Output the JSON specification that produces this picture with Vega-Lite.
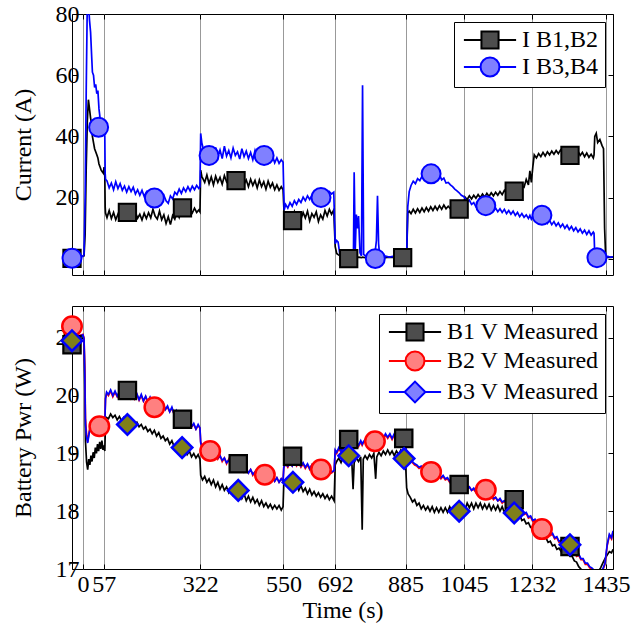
{
"$schema": "https://vega.github.io/schema/vega-lite/v6.json",
"padding": {"left": 10, "top": 1, "right": 2, "bottom": 2},
"background": "white",
"spacing": 29,
"resolve": {"scale": {"shape": "independent", "fill": "independent", "stroke": "independent", "color": "independent"}, "legend": {"shape": "independent", "fill": "independent", "stroke": "independent", "color": "independent"}},
"config": {
  "font": "Liberation Serif",
  "view": {"stroke": "black", "strokeWidth": 1},
  "axis": {"labelFont": "Liberation Serif", "labelFontSize": 24, "labelColor": "black", "titleFont": "Liberation Serif", "titleFontSize": 24, "titleFontWeight": "normal", "titleColor": "black", "domain": false, "tickColor": "black", "tickSize": -5, "labelOverlap": false, "labelFlush": false, "format": "d"},
  "legend": {"orient": "top-right", "offset": 8, "padding": 6, "strokeColor": "black", "fillColor": "white", "labelFont": "Liberation Serif", "labelFontSize": 24, "labelColor": "black", "symbolOffset": 18, "labelOffset": 20, "labelLimit": 400, "cornerRadius": 0, "symbolSize": 324, "symbolStrokeWidth": 2, "symbolFillColor": "#ffffff", "symbolStrokeColor": "#000000"}
},
"datasets": {
"topMarks": [
{"s":"I B1,B2","t":-30,"v":0.2},{"s":"I B1,B2","t":122,"v":15.2},{"s":"I B1,B2","t":273,"v":16.7},{"s":"I B1,B2","t":420,"v":25.6},{"s":"I B1,B2","t":575,"v":12.5},{"s":"I B1,B2","t":729,"v":0.1},{"s":"I B1,B2","t":877,"v":0.4},{"s":"I B1,B2","t":1032,"v":16.3},{"s":"I B1,B2","t":1183,"v":22.1},{"s":"I B1,B2","t":1336,"v":33.8},
{"s":"I B3,B4","t":-30,"v":0.2},{"s":"I B3,B4","t":43,"v":43},{"s":"I B3,B4","t":196,"v":19.9},{"s":"I B3,B4","t":346,"v":33.8},{"s":"I B3,B4","t":497,"v":33.8},{"s":"I B3,B4","t":653,"v":20.1},{"s":"I B3,B4","t":802,"v":0.1},{"s":"I B3,B4","t":955,"v":27.8},{"s":"I B3,B4","t":1105,"v":17.4},{"s":"I B3,B4","t":1259,"v":14.3},{"s":"I B3,B4","t":1410,"v":0.4}
],
"botMarks": [
{"s":"B1 V Measured","t":-30,"v":20.88},{"s":"B1 V Measured","t":122,"v":20.09},{"s":"B1 V Measured","t":273,"v":19.59},{"s":"B1 V Measured","t":426,"v":18.82},{"s":"B1 V Measured","t":575,"v":18.95},{"s":"B1 V Measured","t":729,"v":19.24},{"s":"B1 V Measured","t":880,"v":19.26},{"s":"B1 V Measured","t":1032,"v":18.46},{"s":"B1 V Measured","t":1183,"v":18.2},{"s":"B1 V Measured","t":1336,"v":17.39},
{"s":"B2 V Measured","t":-30,"v":21.2},{"s":"B2 V Measured","t":45,"v":19.47},{"s":"B2 V Measured","t":196,"v":19.8},{"s":"B2 V Measured","t":349,"v":19.04},{"s":"B2 V Measured","t":499,"v":18.63},{"s":"B2 V Measured","t":653,"v":18.72},{"s":"B2 V Measured","t":801,"v":19.21},{"s":"B2 V Measured","t":955,"v":18.68},{"s":"B2 V Measured","t":1105,"v":18.37},{"s":"B2 V Measured","t":1259,"v":17.69},
{"s":"B3 V Measured","t":-30,"v":20.95},{"s":"B3 V Measured","t":122,"v":19.5},{"s":"B3 V Measured","t":272,"v":19.1},{"s":"B3 V Measured","t":426,"v":18.36},{"s":"B3 V Measured","t":576,"v":18.5},{"s":"B3 V Measured","t":729,"v":18.96},{"s":"B3 V Measured","t":881,"v":18.91},{"s":"B3 V Measured","t":1032,"v":18.0},{"s":"B3 V Measured","t":1183,"v":17.97},{"s":"B3 V Measured","t":1336,"v":17.42}
],
"topLines": [
{"t":-30,"a":0.8,"b":0.6},{"t":-20,"a":0.9,"b":0.7},{"t":-10,"a":0.7,"b":0.9},{"t":0,"a":0.9,"b":0.8},{"t":3,"a":1.0,"b":1.5},{"t":6,"a":8,"b":20},{"t":9,"a":30,"b":55},{"t":12,"a":45,"b":84},{"t":15,"a":52,"b":84},{"t":18,"a":49,"b":78},{"t":21,"a":46,"b":74},{"t":24,"a":44,"b":66},{"t":26,"a":40,"b":61},{"t":29,"a":38,"b":60},{"t":32,"a":36,"b":56},{"t":35,"a":35,"b":57},{"t":38,"a":34,"b":54},{"t":41,"a":33,"b":55},{"t":44,"a":31,"b":49},{"t":47,"a":30,"b":46},{"t":50,"a":29,"b":44},{"t":53,"a":28.5,"b":43},{"t":56,"a":28,"b":42},{"t":58,"a":30,"b":41.5},{"t":60,"a":27,"b":40},{"t":61,"a":17,"b":28},{"t":62,"a":15,"b":26},
{"t":66,"a":13.5,"b":25.5},{"t":72,"a":15.8,"b":23.2},{"t":78,"a":13.2,"b":24.8},{"t":84,"a":15.2,"b":22.6},{"t":90,"a":12.8,"b":25.2},{"t":96,"a":14.6,"b":23.0},{"t":102,"a":13.0,"b":24.6},{"t":108,"a":15.4,"b":22.4},{"t":114,"a":13.4,"b":23.8},{"t":120,"a":15.0,"b":21.8},{"t":126,"a":12.9,"b":23.6},{"t":132,"a":14.8,"b":22.0},{"t":138,"a":13.1,"b":23.4},{"t":144,"a":15.3,"b":21.2},{"t":150,"a":13.3,"b":22.6},{"t":156,"a":14.6,"b":20.8},{"t":162,"a":12.7,"b":22.4},{"t":168,"a":14.9,"b":20.4},{"t":174,"a":13.2,"b":21.8},{"t":180,"a":15.1,"b":19.8},{"t":186,"a":13.4,"b":21.6},{"t":192,"a":16.2,"b":19.9},{"t":198,"a":14.0,"b":21.4},{"t":204,"a":13.0,"b":19.6},{"t":210,"a":15.6,"b":21.0},{"t":216,"a":12.8,"b":19.4},{"t":222,"a":14.4,"b":20.8},{"t":228,"a":11.6,"b":19.0},{"t":234,"a":13.8,"b":18.2},{"t":240,"a":11.2,"b":20.6},{"t":246,"a":14.2,"b":19.6},{"t":252,"a":13.0,"b":21.8},{"t":258,"a":15.4,"b":21.0},{"t":264,"a":13.6,"b":22.8},{"t":270,"a":16.0,"b":21.4},{"t":276,"a":14.8,"b":23.2},{"t":282,"a":16.4,"b":22.0},{"t":288,"a":14.6,"b":23.6},{"t":294,"a":16.2,"b":22.2},{"t":300,"a":15.0,"b":23.8},{"t":306,"a":16.6,"b":22.6},{"t":312,"a":15.2,"b":24.0},{"t":318,"a":16.0,"b":23.0},{"t":321,"a":15.4,"b":23.6},
{"t":323,"a":29,"b":41},{"t":326,"a":27,"b":38},{"t":330,"a":26,"b":36},{"t":334,"a":25.0,"b":34.0},{"t":340,"a":27.4,"b":36.2},{"t":346,"a":24.6,"b":33.2},{"t":352,"a":26.8,"b":35.8},{"t":358,"a":24.2,"b":33.6},{"t":364,"a":27.0,"b":36.4},{"t":370,"a":25.0,"b":33.4},{"t":376,"a":26.6,"b":35.6},{"t":382,"a":24.4,"b":32.8},{"t":388,"a":27.2,"b":36.8},{"t":394,"a":25.2,"b":33.6},{"t":400,"a":26.4,"b":35.4},{"t":406,"a":24.0,"b":33.0},{"t":412,"a":26.8,"b":36.2},{"t":418,"a":24.6,"b":33.8},{"t":424,"a":26.2,"b":35.0},{"t":430,"a":23.8,"b":32.6},{"t":436,"a":26.4,"b":36.0},{"t":442,"a":24.4,"b":33.4},{"t":448,"a":25.8,"b":35.2},{"t":454,"a":23.6,"b":32.8},{"t":460,"a":26.0,"b":34.8},{"t":466,"a":24.0,"b":32.4},{"t":472,"a":25.6,"b":35.4},{"t":478,"a":23.2,"b":33.0},{"t":484,"a":25.8,"b":34.6},{"t":490,"a":23.6,"b":32.2},{"t":496,"a":25.2,"b":34.2},{"t":502,"a":22.8,"b":32.0},{"t":508,"a":25.4,"b":34.4},{"t":514,"a":23.4,"b":31.8},{"t":520,"a":24.8,"b":33.6},{"t":526,"a":22.6,"b":31.4},{"t":532,"a":24.2,"b":33.0},{"t":538,"a":22.4,"b":31.2},{"t":544,"a":23.6,"b":32.4},{"t":549,"a":22.6,"b":31.6},
{"t":552,"a":14.0,"b":16.0},{"t":556,"a":15.0,"b":17.8},{"t":562,"a":12.6,"b":16.6},{"t":568,"a":14.8,"b":18.4},{"t":574,"a":13.2,"b":17.2},{"t":580,"a":15.4,"b":19.0},{"t":586,"a":12.8,"b":17.8},{"t":592,"a":14.6,"b":19.4},{"t":598,"a":13.0,"b":18.4},{"t":604,"a":15.2,"b":20.2},{"t":610,"a":13.4,"b":19.0},{"t":616,"a":15.6,"b":20.6},{"t":622,"a":12.4,"b":19.4},{"t":628,"a":14.8,"b":20.8},{"t":634,"a":13.6,"b":19.6},{"t":640,"a":15.4,"b":21.2},{"t":646,"a":12.2,"b":20.0},{"t":652,"a":14.4,"b":21.4},{"t":658,"a":13.0,"b":20.2},{"t":664,"a":15.8,"b":21.8},{"t":670,"a":14.0,"b":20.8},{"t":676,"a":16.2,"b":22.0},{"t":682,"a":14.6,"b":21.2},{"t":688,"a":16.0,"b":21.8},
{"t":692,"a":4.0,"b":5.0},{"t":696,"a":1.8,"b":6.0},{"t":700,"a":1.4,"b":5.5},{"t":705,"a":1.0,"b":1.2},{"t":712,"a":0.6,"b":0.8},{"t":720,"a":0.5,"b":0.9},{"t":728,"a":0.7,"b":0.6},{"t":736,"a":0.4,"b":0.9},{"t":742,"a":0.6,"b":1.0},{"t":744,"a":0.5,"b":28.3},{"t":747,"a":0.6,"b":3.0},{"t":750,"a":0.5,"b":14.5},{"t":753,"a":0.4,"b":10.0},{"t":756,"a":0.6,"b":14.0},{"t":760,"a":0.5,"b":2.0},{"t":764,"a":0.4,"b":1.0},{"t":767,"a":0.6,"b":56.7},{"t":770,"a":0.5,"b":1.5},{"t":776,"a":0.4,"b":0.8},{"t":784,"a":0.6,"b":0.6},{"t":792,"a":0.5,"b":0.9},{"t":800,"a":0.4,"b":0.7},{"t":805,"a":0.6,"b":6.0},{"t":808,"a":0.5,"b":20.6},{"t":811,"a":0.4,"b":5.0},{"t":814,"a":0.6,"b":1.0},{"t":820,"a":0.5,"b":0.7},{"t":830,"a":0.4,"b":0.9},{"t":840,"a":0.6,"b":0.6},{"t":850,"a":0.5,"b":0.8},{"t":860,"a":0.4,"b":0.6},{"t":870,"a":0.6,"b":0.9},{"t":880,"a":0.5,"b":0.7},{"t":888,"a":0.5,"b":0.6},
{"t":891,"a":15.0,"b":17.0},{"t":895,"a":15.6,"b":22.0},{"t":900,"a":14.8,"b":24.0},{"t":906,"a":16.2,"b":25.4},{"t":912,"a":15.0,"b":24.6},{"t":918,"a":16.4,"b":26.2},{"t":924,"a":15.2,"b":25.6},{"t":930,"a":16.6,"b":27.0},{"t":936,"a":15.4,"b":26.4},{"t":942,"a":16.8,"b":27.8},{"t":948,"a":15.6,"b":27.2},{"t":954,"a":17.0,"b":28.8},{"t":960,"a":15.8,"b":27.6},{"t":966,"a":17.2,"b":28.4},{"t":972,"a":16.0,"b":26.8},{"t":978,"a":17.4,"b":27.6},{"t":984,"a":16.2,"b":25.8},{"t":990,"a":17.6,"b":26.4},{"t":996,"a":16.4,"b":24.8},{"t":1002,"a":17.2,"b":25.0},{"t":1008,"a":16.4,"b":24.2},{"t":1014,"a":17.6,"b":23.6},{"t":1020,"a":16.6,"b":22.8},{"t":1026,"a":17.8,"b":22.2},{"t":1032,"a":16.8,"b":21.6},{"t":1038,"a":17.6,"b":20.8},{"t":1044,"a":18.0,"b":20.4},{"t":1048,"a":20.2,"b":19.8},{"t":1054,"a":19.4,"b":18.6},{"t":1060,"a":20.6,"b":19.2},{"t":1066,"a":19.6,"b":17.8},{"t":1072,"a":20.8,"b":18.4},{"t":1078,"a":19.8,"b":17.0},{"t":1084,"a":21.0,"b":17.8},{"t":1090,"a":20.0,"b":16.6},{"t":1096,"a":21.2,"b":17.6},{"t":1102,"a":20.2,"b":16.4},{"t":1108,"a":21.4,"b":17.4},{"t":1114,"a":20.4,"b":16.0},{"t":1120,"a":21.6,"b":17.0},{"t":1126,"a":20.6,"b":15.6},{"t":1132,"a":21.8,"b":16.6},{"t":1138,"a":20.8,"b":15.4},{"t":1144,"a":22.0,"b":16.4},{"t":1150,"a":21.0,"b":15.2},{"t":1156,"a":22.4,"b":16.2},{"t":1162,"a":21.4,"b":14.8},{"t":1168,"a":22.6,"b":15.8},{"t":1174,"a":21.8,"b":14.6},{"t":1180,"a":23.0,"b":15.6},{"t":1186,"a":22.2,"b":14.2},{"t":1192,"a":23.4,"b":15.2},{"t":1198,"a":22.6,"b":13.8},{"t":1204,"a":23.8,"b":14.8},{"t":1210,"a":23.4,"b":13.6},{"t":1216,"a":26.0,"b":14.4},{"t":1222,"a":24.2,"b":13.2},{"t":1226,"a":28.8,"b":14.2},{"t":1230,"a":25.0,"b":13.0},{"t":1234,"a":30.0,"b":14.0},{"t":1238,"a":34.0,"b":12.6},{"t":1244,"a":33.0,"b":13.8},{"t":1250,"a":34.4,"b":12.4},{"t":1256,"a":33.4,"b":13.4},{"t":1262,"a":34.8,"b":12.0},{"t":1268,"a":33.6,"b":13.0},{"t":1274,"a":35.0,"b":11.6},{"t":1280,"a":34.0,"b":12.6},{"t":1286,"a":35.2,"b":11.2},{"t":1292,"a":34.2,"b":12.2},{"t":1298,"a":35.4,"b":10.8},{"t":1304,"a":34.4,"b":11.8},{"t":1310,"a":35.6,"b":10.4},{"t":1316,"a":34.6,"b":11.4},{"t":1322,"a":35.2,"b":10.0},{"t":1328,"a":34.0,"b":11.0},{"t":1334,"a":35.4,"b":9.6},{"t":1340,"a":34.2,"b":10.6},{"t":1346,"a":35.0,"b":9.2},{"t":1352,"a":34.0,"b":10.2},{"t":1358,"a":35.2,"b":8.8},{"t":1364,"a":33.8,"b":9.8},{"t":1370,"a":34.8,"b":8.4},{"t":1376,"a":33.4,"b":9.4},{"t":1382,"a":34.6,"b":8.0},{"t":1388,"a":33.2,"b":9.2},{"t":1394,"a":34.2,"b":7.8},{"t":1400,"a":33.0,"b":8.8},{"t":1402,"a":34.0,"b":8.4},{"t":1404,"a":40.0,"b":1.0},{"t":1408,"a":41.0,"b":0.6},{"t":1412,"a":38.0,"b":0.8},{"t":1418,"a":39.0,"b":0.5},{"t":1424,"a":37.0,"b":0.7},{"t":1428,"a":36.0,"b":0.5},{"t":1431,"a":10.0,"b":0.6},{"t":1434,"a":0.5,"b":0.6},{"t":1440,"a":0.6,"b":0.8},{"t":1446,"a":0.5,"b":0.6},{"t":1454,"a":0.6,"b":0.7}
],
"botLines": [
{"t":-30,"p":20.98,"q":21.08,"r":21.05},{"t":-20,"p":21.02,"q":21.06,"r":21.08},{"t":-10,"p":20.96,"q":21.04,"r":21.03},{"t":0,"p":21.0,"q":21.06,"r":21.05},{"t":3,"p":20.94,"q":21.0,"r":20.98},{"t":5,"p":20.2,"q":20.5,"r":20.4},{"t":7,"p":19.2,"q":19.6,"r":19.5},{"t":10,"p":18.85,"q":19.32,"r":19.28},{"t":13,"p":18.72,"q":19.2,"r":19.18},{"t":16,"p":18.9,"q":19.34,"r":19.3},{"t":19,"p":18.8,"q":19.44,"r":19.42},{"t":22,"p":18.96,"q":19.5,"r":19.48},{"t":25,"p":18.86,"q":19.4,"r":19.38},{"t":28,"p":19.02,"q":19.52,"r":19.5},{"t":31,"p":18.92,"q":19.46,"r":19.44},{"t":34,"p":19.1,"q":19.56,"r":19.54},{"t":37,"p":19.0,"q":19.48,"r":19.46},{"t":40,"p":19.16,"q":19.58,"r":19.56},{"t":43,"p":19.04,"q":19.5,"r":19.48},{"t":46,"p":19.2,"q":19.6,"r":19.58},{"t":49,"p":19.08,"q":19.46,"r":19.44},{"t":52,"p":19.22,"q":19.56,"r":19.54},{"t":55,"p":19.06,"q":19.5,"r":19.48},{"t":58,"p":19.14,"q":19.58,"r":19.56},{"t":60,"p":19.04,"q":19.54,"r":19.52},{"t":62,"p":19.55,"q":19.95,"r":19.95},{"t":65,"p":19.62,"q":20.04,"r":20.06},
{"t":70,"p":19.6,"q":20.0,"r":20.02},{"t":76,"p":19.68,"q":20.08,"r":20.1},{"t":82,"p":19.62,"q":19.98,"r":20.0},{"t":88,"p":19.66,"q":20.06,"r":20.08},{"t":94,"p":19.58,"q":19.98,"r":19.99},{"t":100,"p":19.64,"q":20.06,"r":20.07},{"t":106,"p":19.56,"q":19.97,"r":19.98},{"t":112,"p":19.62,"q":20.04,"r":20.06},{"t":118,"p":19.54,"q":19.96,"r":19.97},{"t":124,"p":19.6,"q":20.04,"r":20.05},{"t":130,"p":19.52,"q":19.95,"r":19.96},{"t":136,"p":19.58,"q":20.02,"r":20.04},{"t":142,"p":19.5,"q":19.94,"r":19.95},{"t":148,"p":19.54,"q":20.02,"r":20.03},{"t":154,"p":19.46,"q":19.92,"r":19.93},{"t":160,"p":19.5,"q":20.0,"r":20.02},{"t":166,"p":19.42,"q":19.9,"r":19.91},{"t":172,"p":19.46,"q":19.98,"r":19.99},{"t":178,"p":19.38,"q":19.88,"r":19.89},{"t":184,"p":19.42,"q":19.96,"r":19.97},{"t":190,"p":19.34,"q":19.86,"r":19.86},{"t":196,"p":19.4,"q":19.92,"r":19.94},{"t":202,"p":19.3,"q":19.84,"r":19.84},{"t":208,"p":19.36,"q":19.9,"r":19.91},{"t":214,"p":19.26,"q":19.8,"r":19.8},{"t":220,"p":19.3,"q":19.86,"r":19.87},{"t":226,"p":19.22,"q":19.76,"r":19.76},{"t":232,"p":19.26,"q":19.8,"r":19.82},{"t":238,"p":19.16,"q":19.72,"r":19.72},{"t":244,"p":19.22,"q":19.78,"r":19.8},{"t":250,"p":19.12,"q":19.68,"r":19.68},{"t":256,"p":19.16,"q":19.72,"r":19.74},{"t":262,"p":19.06,"q":19.62,"r":19.62},{"t":268,"p":19.12,"q":19.66,"r":19.68},{"t":274,"p":19.02,"q":19.56,"r":19.56},{"t":280,"p":19.08,"q":19.6,"r":19.62},{"t":286,"p":18.98,"q":19.52,"r":19.52},{"t":292,"p":19.04,"q":19.56,"r":19.58},{"t":298,"p":18.94,"q":19.46,"r":19.46},{"t":304,"p":19.0,"q":19.5,"r":19.52},{"t":310,"p":18.92,"q":19.42,"r":19.42},{"t":316,"p":18.98,"q":19.48,"r":19.5},{"t":321,"p":18.9,"q":19.44,"r":19.44},
{"t":323,"p":18.62,"q":19.2,"r":19.18},{"t":328,"p":18.54,"q":19.1,"r":19.1},{"t":334,"p":18.6,"q":19.04,"r":19.06},{"t":340,"p":18.5,"q":19.08,"r":19.08},{"t":346,"p":18.56,"q":18.98,"r":19.0},{"t":352,"p":18.46,"q":19.04,"r":19.04},{"t":358,"p":18.54,"q":18.94,"r":18.96},{"t":364,"p":18.42,"q":19.0,"r":19.0},{"t":370,"p":18.5,"q":18.9,"r":18.92},{"t":376,"p":18.38,"q":18.96,"r":18.96},{"t":382,"p":18.46,"q":18.86,"r":18.88},{"t":388,"p":18.36,"q":18.92,"r":18.92},{"t":394,"p":18.42,"q":18.82,"r":18.84},{"t":400,"p":18.32,"q":18.9,"r":18.88},{"t":406,"p":18.4,"q":18.8,"r":18.8},{"t":412,"p":18.28,"q":18.86,"r":18.86},{"t":418,"p":18.36,"q":18.76,"r":18.78},{"t":424,"p":18.26,"q":18.82,"r":18.82},{"t":430,"p":18.32,"q":18.72,"r":18.74},{"t":436,"p":18.22,"q":18.78,"r":18.78},{"t":442,"p":18.3,"q":18.68,"r":18.7},{"t":448,"p":18.18,"q":18.74,"r":18.74},{"t":454,"p":18.26,"q":18.66,"r":18.66},{"t":460,"p":18.16,"q":18.72,"r":18.72},{"t":466,"p":18.24,"q":18.62,"r":18.64},{"t":472,"p":18.14,"q":18.68,"r":18.68},{"t":478,"p":18.2,"q":18.6,"r":18.6},{"t":484,"p":18.1,"q":18.66,"r":18.66},{"t":490,"p":18.18,"q":18.58,"r":18.58},{"t":496,"p":18.08,"q":18.64,"r":18.64},{"t":502,"p":18.14,"q":18.56,"r":18.56},{"t":508,"p":18.06,"q":18.62,"r":18.62},{"t":514,"p":18.12,"q":18.54,"r":18.54},{"t":520,"p":18.04,"q":18.6,"r":18.6},{"t":526,"p":18.1,"q":18.52,"r":18.52},{"t":532,"p":18.04,"q":18.58,"r":18.58},{"t":538,"p":18.1,"q":18.5,"r":18.5},{"t":544,"p":18.02,"q":18.56,"r":18.56},{"t":549,"p":18.08,"q":18.52,"r":18.52},
{"t":551,"p":18.5,"q":18.76,"r":18.76},{"t":556,"p":18.46,"q":18.82,"r":18.82},{"t":562,"p":18.54,"q":18.76,"r":18.78},{"t":568,"p":18.42,"q":18.84,"r":18.84},{"t":574,"p":18.5,"q":18.78,"r":18.78},{"t":580,"p":18.4,"q":18.86,"r":18.86},{"t":586,"p":18.46,"q":18.78,"r":18.8},{"t":592,"p":18.36,"q":18.84,"r":18.86},{"t":598,"p":18.44,"q":18.76,"r":18.78},{"t":604,"p":18.34,"q":18.82,"r":18.84},{"t":610,"p":18.4,"q":18.74,"r":18.76},{"t":616,"p":18.3,"q":18.8,"r":18.82},{"t":622,"p":18.38,"q":18.72,"r":18.74},{"t":628,"p":18.28,"q":18.8,"r":18.8},{"t":634,"p":18.34,"q":18.72,"r":18.72},{"t":640,"p":18.26,"q":18.78,"r":18.78},{"t":646,"p":18.32,"q":18.7,"r":18.7},{"t":652,"p":18.24,"q":18.76,"r":18.76},{"t":658,"p":18.3,"q":18.68,"r":18.7},{"t":664,"p":18.22,"q":18.74,"r":18.76},{"t":670,"p":18.28,"q":18.68,"r":18.68},{"t":676,"p":18.2,"q":18.72,"r":18.74},{"t":682,"p":18.26,"q":18.66,"r":18.68},{"t":689,"p":18.18,"q":18.7,"r":18.7},
{"t":692,"p":18.8,"q":19.04,"r":19.06},{"t":696,"p":18.86,"q":19.0,"r":19.02},{"t":702,"p":18.92,"q":19.08,"r":19.1},{"t":708,"p":18.84,"q":19.02,"r":19.04},{"t":714,"p":18.94,"q":19.12,"r":19.14},{"t":720,"p":18.86,"q":19.06,"r":19.08},{"t":726,"p":18.96,"q":19.14,"r":19.16},{"t":732,"p":18.88,"q":19.08,"r":19.1},{"t":738,"p":18.8,"q":19.16,"r":19.18},{"t":741,"p":18.38,"q":19.1,"r":19.12},{"t":744,"p":18.84,"q":19.14,"r":19.16},{"t":750,"p":18.92,"q":19.18,"r":19.2},{"t":756,"p":18.86,"q":19.12,"r":19.14},{"t":762,"p":18.94,"q":19.2,"r":19.22},{"t":766,"p":17.68,"q":19.14,"r":19.16},{"t":769,"p":18.9,"q":19.18,"r":19.2},{"t":774,"p":18.96,"q":19.22,"r":19.24},{"t":780,"p":18.9,"q":19.16,"r":19.18},{"t":786,"p":18.98,"q":19.24,"r":19.26},{"t":792,"p":18.92,"q":19.18,"r":19.2},{"t":798,"p":19.0,"q":19.26,"r":19.28},{"t":803,"p":18.56,"q":19.2,"r":19.22},{"t":806,"p":18.94,"q":19.26,"r":19.28},{"t":812,"p":19.02,"q":19.22,"r":19.24},{"t":818,"p":18.96,"q":19.3,"r":19.32},{"t":824,"p":19.04,"q":19.24,"r":19.26},{"t":830,"p":18.98,"q":19.32,"r":19.34},{"t":836,"p":19.06,"q":19.26,"r":19.28},{"t":842,"p":18.98,"q":19.32,"r":19.34},{"t":848,"p":19.04,"q":19.24,"r":19.26},{"t":854,"p":18.96,"q":19.32,"r":19.34},{"t":860,"p":19.04,"q":19.26,"r":19.28},{"t":866,"p":18.98,"q":19.3,"r":19.32},{"t":872,"p":19.06,"q":19.22,"r":19.24},{"t":878,"p":19.0,"q":19.2,"r":19.22},{"t":884,"p":18.98,"q":19.12,"r":19.14},
{"t":888,"p":18.4,"q":19.02,"r":19.04},{"t":892,"p":18.3,"q":18.94,"r":18.96},{"t":898,"p":18.24,"q":18.9,"r":18.92},{"t":904,"p":18.16,"q":18.84,"r":18.86},{"t":910,"p":18.2,"q":18.8,"r":18.82},{"t":916,"p":18.1,"q":18.78,"r":18.8},{"t":922,"p":18.14,"q":18.74,"r":18.76},{"t":928,"p":18.04,"q":18.76,"r":18.78},{"t":934,"p":18.1,"q":18.7,"r":18.72},{"t":940,"p":18.02,"q":18.72,"r":18.74},{"t":946,"p":18.08,"q":18.66,"r":18.68},{"t":952,"p":18.0,"q":18.68,"r":18.7},{"t":958,"p":18.08,"q":18.62,"r":18.64},{"t":964,"p":17.98,"q":18.66,"r":18.68},{"t":970,"p":18.06,"q":18.6,"r":18.62},{"t":976,"p":17.98,"q":18.62,"r":18.64},{"t":982,"p":18.06,"q":18.56,"r":18.58},{"t":988,"p":17.98,"q":18.6,"r":18.62},{"t":994,"p":18.06,"q":18.54,"r":18.56},{"t":1000,"p":17.98,"q":18.56,"r":18.58},{"t":1006,"p":18.08,"q":18.5,"r":18.52},{"t":1012,"p":18.0,"q":18.54,"r":18.56},{"t":1018,"p":18.08,"q":18.48,"r":18.5},{"t":1024,"p":17.98,"q":18.5,"r":18.52},{"t":1030,"p":18.06,"q":18.44,"r":18.46},{"t":1036,"p":17.98,"q":18.48,"r":18.5},{"t":1042,"p":18.1,"q":18.42,"r":18.44},{"t":1048,"p":18.02,"q":18.44,"r":18.46},{"t":1054,"p":18.14,"q":18.38,"r":18.4},{"t":1060,"p":18.06,"q":18.42,"r":18.42},{"t":1066,"p":18.14,"q":18.36,"r":18.36},{"t":1072,"p":18.04,"q":18.38,"r":18.4},{"t":1078,"p":18.14,"q":18.32,"r":18.34},{"t":1084,"p":18.06,"q":18.36,"r":18.36},{"t":1090,"p":18.14,"q":18.3,"r":18.32},{"t":1096,"p":18.04,"q":18.32,"r":18.34},{"t":1102,"p":18.12,"q":18.26,"r":18.28},{"t":1108,"p":18.04,"q":18.3,"r":18.3},{"t":1114,"p":18.12,"q":18.24,"r":18.24},{"t":1120,"p":18.02,"q":18.26,"r":18.28},{"t":1126,"p":18.1,"q":18.2,"r":18.22},{"t":1132,"p":18.02,"q":18.24,"r":18.24},{"t":1138,"p":18.1,"q":18.18,"r":18.18},{"t":1144,"p":18.0,"q":18.2,"r":18.22},{"t":1150,"p":18.08,"q":18.14,"r":18.16},{"t":1156,"p":17.98,"q":18.18,"r":18.18},{"t":1162,"p":18.06,"q":18.12,"r":18.14},{"t":1168,"p":17.96,"q":18.14,"r":18.16},{"t":1174,"p":18.02,"q":18.08,"r":18.1},{"t":1180,"p":17.94,"q":18.12,"r":18.12},{"t":1186,"p":17.98,"q":18.04,"r":18.06},{"t":1192,"p":17.9,"q":18.06,"r":18.08},{"t":1198,"p":17.94,"q":17.98,"r":18.0},{"t":1204,"p":17.84,"q":18.02,"r":18.04},{"t":1210,"p":17.86,"q":17.94,"r":17.96},{"t":1216,"p":17.78,"q":17.96,"r":17.98},{"t":1222,"p":17.8,"q":17.88,"r":17.9},{"t":1228,"p":17.72,"q":17.9,"r":17.92},{"t":1234,"p":17.72,"q":17.82,"r":17.84},{"t":1240,"p":17.64,"q":17.84,"r":17.86},{"t":1246,"p":17.66,"q":17.76,"r":17.78},{"t":1252,"p":17.58,"q":17.78,"r":17.8},{"t":1258,"p":17.6,"q":17.7,"r":17.72},{"t":1264,"p":17.52,"q":17.72,"r":17.74},{"t":1270,"p":17.54,"q":17.64,"r":17.66},{"t":1276,"p":17.46,"q":17.66,"r":17.68},{"t":1282,"p":17.48,"q":17.58,"r":17.6},{"t":1288,"p":17.4,"q":17.6,"r":17.62},{"t":1294,"p":17.42,"q":17.52,"r":17.54},{"t":1300,"p":17.34,"q":17.54,"r":17.56},{"t":1306,"p":17.36,"q":17.46,"r":17.48},{"t":1312,"p":17.3,"q":17.48,"r":17.5},{"t":1318,"p":17.32,"q":17.4,"r":17.42},{"t":1324,"p":17.26,"q":17.42,"r":17.44},{"t":1330,"p":17.28,"q":17.34,"r":17.36},{"t":1336,"p":17.22,"q":17.36,"r":17.38},{"t":1342,"p":17.22,"q":17.28,"r":17.3},{"t":1348,"p":17.14,"q":17.3,"r":17.32},{"t":1354,"p":17.12,"q":17.22,"r":17.24},{"t":1360,"p":17.04,"q":17.24,"r":17.26},{"t":1366,"p":17.0,"q":17.16,"r":17.18},{"t":1372,"p":16.92,"q":17.16,"r":17.18},{"t":1378,"p":16.9,"q":17.08,"r":17.1},{"t":1384,"p":16.86,"q":17.08,"r":17.1},{"t":1390,"p":16.84,"q":17.02,"r":17.04},{"t":1396,"p":16.82,"q":17.0,"r":17.02},{"t":1402,"p":16.8,"q":16.96,"r":16.98},{"t":1408,"p":16.9,"q":16.94,"r":16.96},{"t":1414,"p":16.96,"q":16.9,"r":16.92},{"t":1420,"p":17.02,"q":16.94,"r":16.96},{"t":1426,"p":17.1,"q":16.98,"r":17.0},{"t":1432,"p":17.18,"q":17.08,"r":17.1},{"t":1438,"p":17.24,"q":17.4,"r":17.42},{"t":1444,"p":17.3,"q":17.58,"r":17.6},{"t":1450,"p":17.28,"q":17.52,"r":17.54},{"t":1454,"p":17.34,"q":17.64,"r":17.66}
]
},
"vconcat": [
{
  "width": 541, "height": 261,
  "resolve": {"axis": {"x": "independent", "y": "independent"}},
  "layer": [
    {
      "data": {"name": "topLines"},
      "transform": [{"fold": ["a", "b"], "as": ["k", "v"]}],
      "mark": {"type": "line", "clip": true, "strokeWidth": 1.7},
      "encoding": {
        "x": {"field": "t", "type": "quantitative", "scale": {"domain": [-30, 1454], "nice": false, "zero": false}, "axis": {"orient": "bottom", "values": [0, 57, 322, 550, 692, 885, 1045, 1232, 1435], "labels": false, "title": null, "grid": true, "gridColor": "#999999", "gridWidth": 1}},
        "y": {"field": "v", "type": "quantitative", "scale": {"domain": [-5.25, 80], "nice": false, "zero": false}, "axis": {"orient": "left", "values": [0, 20, 40, 60, 80], "title": "Current (A)", "grid": false, "labelPadding": -2, "titleAngle": 270, "titleX": -37, "titleY": 130.5, "titleBaseline": "bottom", "titleAlign": "center"}},
        "color": {"field": "k", "type": "nominal", "scale": {"domain": ["a", "b"], "range": ["#000000", "#0000ff"]}, "legend": null}
      }
    },
    {
      "data": {"name": "topMarks"},
      "mark": {"type": "point", "filled": true, "opacity": 0, "size": 320},
      "encoding": {
        "x": {"field": "t", "type": "quantitative", "scale": {"domain": [-30, 1454], "nice": false, "zero": false}, "axis": null},
        "y": {"field": "v", "type": "quantitative", "scale": {"domain": [-5.25, 80], "nice": false, "zero": false}, "axis": null},
        "shape": {"field": "s", "type": "nominal", "scale": {"domain": ["I B1,B2", "I B3,B4"], "range": ["M-2.9,0H-0.95M0.95,0H2.9M-0.95,-0.95H0.95V0.95H-0.95Z", "M-2.9,0H-1.05M1.05,0H2.9M-1.05,0A1.05,1.05,0,1,0,1.05,0A1.05,1.05,0,1,0,-1.05,0Z"]}, "legend": {"title": null, "rowPadding": 0}},
        "fill": {"field": "s", "type": "nominal", "scale": {"domain": ["I B1,B2", "I B3,B4"], "range": ["#4d4d4d", "#8080ff"]}, "legend": {"title": null, "rowPadding": 0}},
        "stroke": {"field": "s", "type": "nominal", "scale": {"domain": ["I B1,B2", "I B3,B4"], "range": ["#000000", "#0000ff"]}, "legend": {"title": null, "rowPadding": 0}}
      }
    },
    {
      "data": {"name": "topMarks"},
      "transform": [{"filter": "datum.s === 'I B1,B2'"}],
      "mark": {"type": "point", "shape": "square", "filled": true, "fill": "#4d4d4d", "stroke": "#000000", "strokeWidth": 2, "opacity": 1, "size": 300},
      "encoding": {
        "x": {"field": "t", "type": "quantitative", "scale": {"domain": [-30, 1454], "nice": false, "zero": false}, "axis": {"orient": "top", "values": [0, 57, 322, 550, 692, 885, 1045, 1232, 1435], "labels": false, "title": null, "grid": false}},
        "y": {"field": "v", "type": "quantitative", "scale": {"domain": [-5.25, 80], "nice": false, "zero": false}, "axis": {"orient": "right", "values": [0, 20, 40, 60, 80], "labels": false, "title": null, "grid": false}}
      }
    },
    {
      "data": {"name": "topMarks"},
      "transform": [{"filter": "datum.s === 'I B3,B4'"}],
      "mark": {"type": "point", "shape": "circle", "filled": true, "fill": "#8080ff", "stroke": "#0000ff", "strokeWidth": 2, "opacity": 1, "size": 360},
      "encoding": {
        "x": {"field": "t", "type": "quantitative", "scale": {"domain": [-30, 1454], "nice": false, "zero": false}, "axis": null},
        "y": {"field": "v", "type": "quantitative", "scale": {"domain": [-5.25, 80], "nice": false, "zero": false}, "axis": null}
      }
    }
  ]
},
{
  "width": 541, "height": 263,
  "resolve": {"axis": {"x": "independent", "y": "independent"}},
  "layer": [
    {
      "data": {"name": "botLines"},
      "transform": [{"fold": ["p", "q", "r"], "as": ["k", "v"]}],
      "mark": {"type": "line", "clip": true, "strokeWidth": 1.7},
      "encoding": {
        "x": {"field": "t", "type": "quantitative", "scale": {"domain": [-30, 1454], "nice": false, "zero": false}, "axis": {"orient": "bottom", "values": [0, 57, 322, 550, 692, 885, 1045, 1232, 1435], "title": "Time (s)", "grid": true, "gridColor": "#999999", "gridWidth": 1, "labelPadding": 8, "titlePadding": 2}},
        "y": {"field": "v", "type": "quantitative", "scale": {"domain": [17, 21.55], "nice": false, "zero": false}, "axis": {"orient": "left", "values": [17, 18, 19, 20, 21], "title": "Battery Pwr (W)", "grid": false, "labelPadding": -2, "titleAngle": 270, "titleX": -37, "titleY": 131.5, "titleBaseline": "bottom", "titleAlign": "center"}},
        "color": {"field": "k", "type": "nominal", "scale": {"domain": ["p", "q", "r"], "range": ["#000000", "#ff0000", "#0000ff"]}, "legend": null}
      }
    },
    {
      "data": {"name": "botMarks"},
      "mark": {"type": "point", "filled": true, "opacity": 0, "size": 320},
      "encoding": {
        "x": {"field": "t", "type": "quantitative", "scale": {"domain": [-30, 1454], "nice": false, "zero": false}, "axis": null},
        "y": {"field": "v", "type": "quantitative", "scale": {"domain": [17, 21.55], "nice": false, "zero": false}, "axis": null},
        "shape": {"field": "s", "type": "nominal", "scale": {"domain": ["B1 V Measured", "B2 V Measured", "B3 V Measured"], "range": ["M-2.9,0H-0.95M0.95,0H2.9M-0.95,-0.95H0.95V0.95H-0.95Z", "M-2.9,0H-1.05M1.05,0H2.9M-1.05,0A1.05,1.05,0,1,0,1.05,0A1.05,1.05,0,1,0,-1.05,0Z", "M-2.9,0H-1.15M1.15,0H2.9M-1.15,0L0,-1.15L1.15,0L0,1.15Z"]}, "legend": {"title": null, "rowPadding": 2}},
        "fill": {"field": "s", "type": "nominal", "scale": {"domain": ["B1 V Measured", "B2 V Measured", "B3 V Measured"], "range": ["#4d4d4d", "#ff8080", "#8080ff"]}, "legend": {"title": null, "rowPadding": 2}},
        "stroke": {"field": "s", "type": "nominal", "scale": {"domain": ["B1 V Measured", "B2 V Measured", "B3 V Measured"], "range": ["#000000", "#ff0000", "#0000ff"]}, "legend": {"title": null, "rowPadding": 2}}
      }
    },
    {
      "data": {"name": "botMarks"},
      "transform": [{"filter": "datum.s === 'B1 V Measured'"}],
      "mark": {"type": "point", "shape": "square", "filled": true, "fill": "#4d4d4d", "stroke": "#000000", "strokeWidth": 2.2, "opacity": 1, "size": 300},
      "encoding": {
        "x": {"field": "t", "type": "quantitative", "scale": {"domain": [-30, 1454], "nice": false, "zero": false}, "axis": {"orient": "top", "values": [0, 57, 322, 550, 692, 885, 1045, 1232, 1435], "labels": false, "title": null, "grid": false}},
        "y": {"field": "v", "type": "quantitative", "scale": {"domain": [17, 21.55], "nice": false, "zero": false}, "axis": {"orient": "right", "values": [17, 18, 19, 20, 21], "labels": false, "title": null, "grid": false}}
      }
    },
    {
      "data": {"name": "botMarks"},
      "transform": [{"filter": "datum.s === 'B2 V Measured'"}],
      "mark": {"type": "point", "shape": "circle", "filled": true, "fill": "#ff8080", "stroke": "#ff0000", "strokeWidth": 2.5, "opacity": 1, "size": 380},
      "encoding": {
        "x": {"field": "t", "type": "quantitative", "scale": {"domain": [-30, 1454], "nice": false, "zero": false}, "axis": null},
        "y": {"field": "v", "type": "quantitative", "scale": {"domain": [17, 21.55], "nice": false, "zero": false}, "axis": null}
      }
    },
    {
      "data": {"name": "botMarks"},
      "transform": [{"filter": "datum.s === 'B3 V Measured'"}],
      "mark": {"type": "point", "shape": "diamond", "filled": true, "fill": "#7f7f1a", "stroke": "#0000ff", "strokeWidth": 2.5, "opacity": 1, "size": 420},
      "encoding": {
        "x": {"field": "t", "type": "quantitative", "scale": {"domain": [-30, 1454], "nice": false, "zero": false}, "axis": null},
        "y": {"field": "v", "type": "quantitative", "scale": {"domain": [17, 21.55], "nice": false, "zero": false}, "axis": null}
      }
    }
  ]
}
]
}
